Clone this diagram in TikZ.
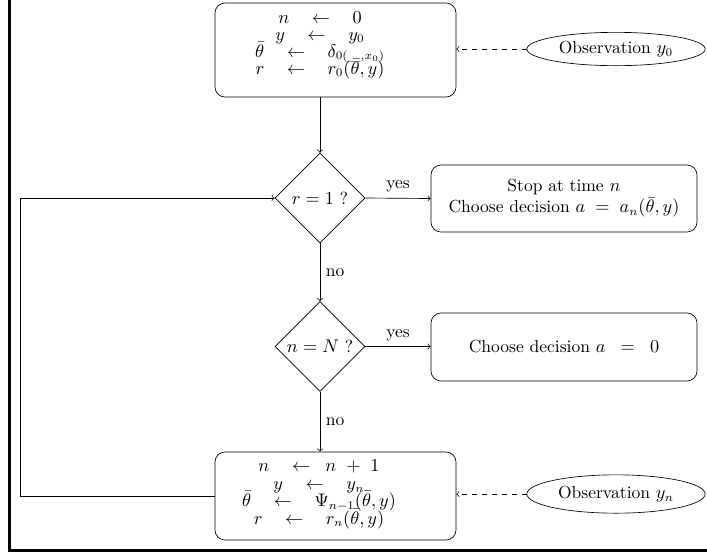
\documentclass[tikz,border=0pt]{standalone}
\usetikzlibrary{shapes.geometric}
\newcommand{\asl}[1]{\smash{$#1$}}
\begin{document}
\begin{tikzpicture}[x=0.6pt,y=-0.6pt,
  every node/.style={font=\fontsize{10.5}{12.6}\selectfont},
  rbox/.style={draw,rounded corners=6pt,align=center,inner sep=2pt},
  asg/.style={align=center,inner sep=0pt,font=\fontsize{10.5}{10.2}\selectfont},
  dec/.style={draw,diamond,aspect=1,inner sep=0pt,minimum width=54pt,minimum height=54pt},
  obs/.style={draw,ellipse,inner sep=0pt,minimum width=107pt},
  flow/.style={->},
  dflow/.style={->,dashed}]
\useasboundingbox (0,0) rectangle (707,552);
\draw[line width=1.8pt] (9.5,0) -- (9.5,550.5) -- (707,550.5);

\node[rbox,minimum width=144.6pt,minimum height=56.4pt] (init) at (335.5,50) {};
\node[asg] (initt) at (320,48.5)
  {\asl{n\quad\leftarrow\quad 0}\\ \asl{y\quad\leftarrow\quad y_0}\\ \asl{\bar\theta\quad\leftarrow\quad \delta_{0(\_,x_0)}}\\ \asl{r\quad\leftarrow\quad r_0(\bar\theta,y)}};
\node[dec] (d1) at (320,198) {$r=1$ ?};
\node[dec] (d2) at (320,346.5) {$n=N$ ?};
\node[rbox,minimum width=144.6pt,minimum height=52.8pt] (upd) at (335.5,496) {};
\node[asg,font=\fontsize{10.5}{10.5}\selectfont] (updt) at (319,498)
  {\asl{n\quad\leftarrow\;\; n\ +\ 1}\\ \asl{y\quad\leftarrow\quad y_n}\\ \asl{\bar\theta\quad\leftarrow\quad \Psi_{n-1}(\bar\theta,y)}\\ \asl{r\quad\leftarrow\quad r_n(\bar\theta,y)}};
\node[rbox,minimum width=159.6pt,minimum height=40.2pt] (stop) at (564,198.5)
  {Stop at time $n$\\ Choose decision $a\;=\;a_n(\bar\theta,y)$};
\node[rbox,minimum width=159.6pt,minimum height=40.8pt] (choose) at (564,347)
  {Choose decision $a\;\;=\;\;0$};
\node[obs,minimum height=20pt] (o0) at (616,49) {Observation $y_0$};
\node[obs,minimum height=23pt] (on) at (616,494) {Observation $y_n$};
\coordinate (lt) at (20,198);

\draw[flow] (init.south -| d1) -- (d1.north);
\draw[flow] (d1.south) -- node[right] {no} (d2.north);
\draw[flow] (d2.south) -- node[right] {no} (upd.north -| d2);
\draw[flow] (d1.east) -- node[above] {yes} (stop.west);
\draw[flow] (d2.east) -- node[above] {yes} (choose.west |- d2);
\draw[flow] (upd.west) -- (upd.west -| lt) -- (lt) -- (d1.west);
\draw[dflow] (o0.west) -- (init.east |- o0);
\draw[dflow] (on.west) -- (upd.east |- on);
\end{tikzpicture}
\end{document}
